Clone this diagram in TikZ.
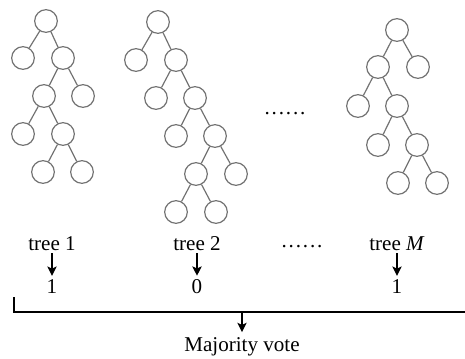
\documentclass[tikz,border=0pt]{standalone}
\usepackage{fontspec}
\setmainfont{Liberation Serif}
\usetikzlibrary{arrows.meta}
\newcommand{\sixdots}{.\kern1.4pt.\kern1.4pt.\kern1.4pt.\kern1.4pt.\kern1.4pt.}

\begin{document}
\begin{tikzpicture}[x=0.75pt,y=-0.75pt,
  vert/.style={circle,draw=black!55,line width=0.9pt,minimum size=17pt,inner sep=0pt},
  lab/.style={font=\fontsize{15.8}{18}\selectfont,inner sep=2.25pt,anchor=base},
  vote/.style={-{Stealth[length=7pt,width=7pt,inset=1.6pt]},line width=1pt}]

\useasboundingbox (0,0) rectangle (465,358);

% trees
\foreach \n/\x/\y in {a1/46/21, b1/23/58, c1/63/58, d1/44/96, e1/83/96, f1/23/134, g1/63/134, h1/43/172, i1/82/172,
  a2/158/22, b2/136/60, c2/176/60, d2/156/98, e2/195/98, f2/176/136, g2/215/136, h2/196/174, i2/236/174, j2/176/212, k2/216/212,
  a3/397/30, b3/378/67, c3/418/67, d3/358/106, e3/397/106, f3/378/145, g3/417/145, h3/398/183, i3/437/183}
\draw (\x,\y) node[vert] (\n) {};

\foreach \i/\j in {a1/b1,a1/c1,c1/d1,c1/e1,d1/f1,d1/g1,g1/h1,g1/i1,
  a2/b2,a2/c2,c2/d2,c2/e2,e2/f2,e2/g2,g2/h2,g2/i2,h2/j2,h2/k2,
  a3/b3,a3/c3,b3/d3,b3/e3,e3/f3,e3/g3,g3/h3,g3/i3}
\draw [black!55,line width=0.9pt] (\i) -- (\j);

\draw (285,114) node[lab] (dtop) {\sixdots};

% votes
\foreach \k/\x/\t/\v in {1/52/tree 1/1, 2/197/tree 2/0, 3/397/tree \textit{M}/1} {
\draw (\x,250) node[lab] (t\k) {\t};
\draw (\x,293) node[lab] (v\k) {\v};
\draw [vote] (t\k) -- (v\k);
}
\draw (302,247) node[lab] (dmid) {\sixdots};

\coordinate (bl) at (14,297);
\coordinate (bc) at (14,312);
\coordinate (br) at (465,312);
\coordinate (bm) at (242,312);
\draw [line width=1.1pt] (bl) -- (bc) -- (br);
\draw (242,351) node[lab,inner ysep=3.5pt] (maj) {Majority vote};
\draw [vote] (bm) -- (maj);

\end{tikzpicture}
\end{document}
